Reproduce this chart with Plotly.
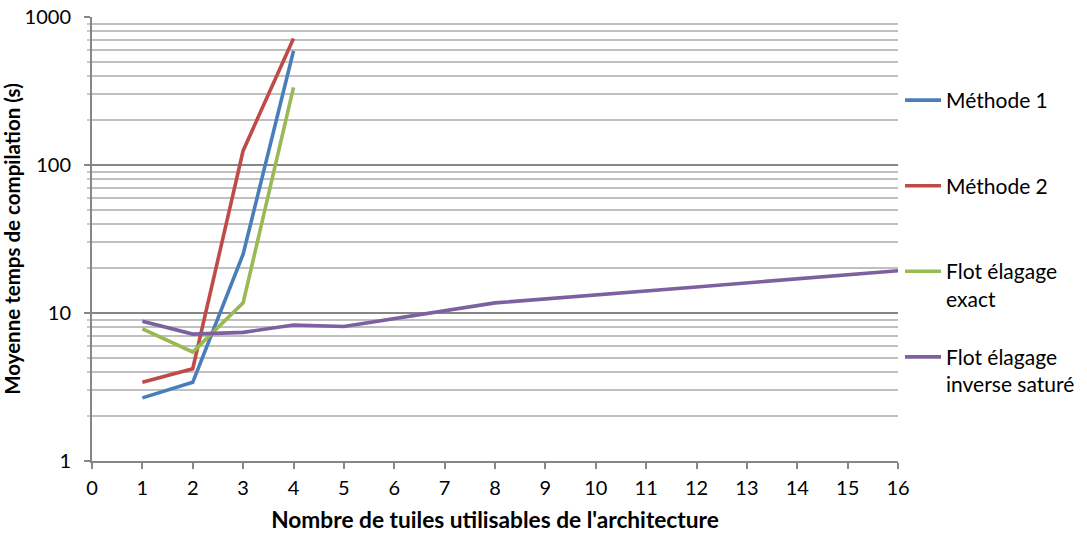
import plotly.graph_objects as go

# nombre de tuiles (x) et temps moyens (s)
tuiles_m = [1, 2, 3, 4]
methode_1 = [2.67, 3.4, 25, 590]
methode_2 = [3.4, 4.2, 125, 715]
flot_exact = [7.8, 5.45, 11.7, 335]

tuiles_inv = [1, 2, 3, 4, 5, 8, 12, 16]
flot_inverse = [8.8, 7.2, 7.4, 8.3, 8.1, 11.7, 15.0, 19.3]

series = [
    ('Méthode 1<br> ', tuiles_m, methode_1, '#4A7EBB'),
    ('Méthode 2<br> ', tuiles_m, methode_2, '#BE4B48'),
    ('Flot élagage<br>exact', tuiles_m, flot_exact, '#98B954'),
    ('Flot élagage<br>inverse saturé', tuiles_inv, flot_inverse, '#7D60A0'),
]

x_ticks = list(range(0, 17))
y_ticks = [1, 10, 100, 1000]

FONT = 'Lato, Carlito, Calibri, sans-serif'

fig = go.Figure()
for i, (name, xs, ys, color) in enumerate(series):
    fig.add_trace(go.Scatter(
        x=xs, y=ys, mode='lines', name=name,
        line=dict(color=color, width=3.6),
        legendgroup=f'g{i}',
    ))

fig.update_xaxes(
    range=[0, 16], tickvals=x_ticks, ticktext=[str(v) for v in x_ticks],
    automargin=False,
    showgrid=False, zeroline=False,
    showline=True, linewidth=2, linecolor='#868686',
    ticks='outside', ticklen=6, tickwidth=2, tickcolor='#868686',
    tickfont=dict(family=FONT, size=20, color='#000000'),
    ticklabelstandoff=2,
    title=dict(text="<b>Nombre de tuiles utilisables de l'architecture</b>",
               font=dict(family=FONT, size=22.7, color='#000000'), standoff=15),
)
fig.update_yaxes(
    type='log', range=[0, 3], tickvals=y_ticks, ticktext=[str(v) for v in y_ticks],
    automargin=False, ticklabeloverflow='allow',
    showgrid=True, gridcolor='#868686', gridwidth=2,
    minor=dict(showgrid=True, gridcolor='#C0C0C0', gridwidth=2, dtick='D1',
               ticks='outside', ticklen=3, tickcolor='#C8C8C8'),
    zeroline=False,
    showline=True, linewidth=2, linecolor='#868686',
    ticks='outside', ticklen=6, tickwidth=2, tickcolor='#868686',
    tickfont=dict(family=FONT, size=20, color='#000000'),
    ticklabelstandoff=9,
    title=dict(text='<b>Moyenne temps de compilation (s)</b>',
               font=dict(family=FONT, size=20.5, color='#000000'), standoff=0),
)

fig.update_layout(
    width=1087, height=533,
    font=dict(family=FONT, size=19, color='#000000'),
    plot_bgcolor='white', paper_bgcolor='white',
    margin=dict(l=92, r=189, t=17, b=72),
    showlegend=True,
    legend=dict(
        xref='container', yref='container',
        x=0.828, xanchor='left', y=0.85, yanchor='top',
        valign='top', tracegroupgap=28, maxheight=420,
        font=dict(family=FONT, size=21, color='#000000'),
        itemwidth=36,
    ),
)

# pas de marge de page autour de la figure
fig.write_html('out.html', config={'displayModeBar': False},
               post_script="document.body.style.margin = '0';")
